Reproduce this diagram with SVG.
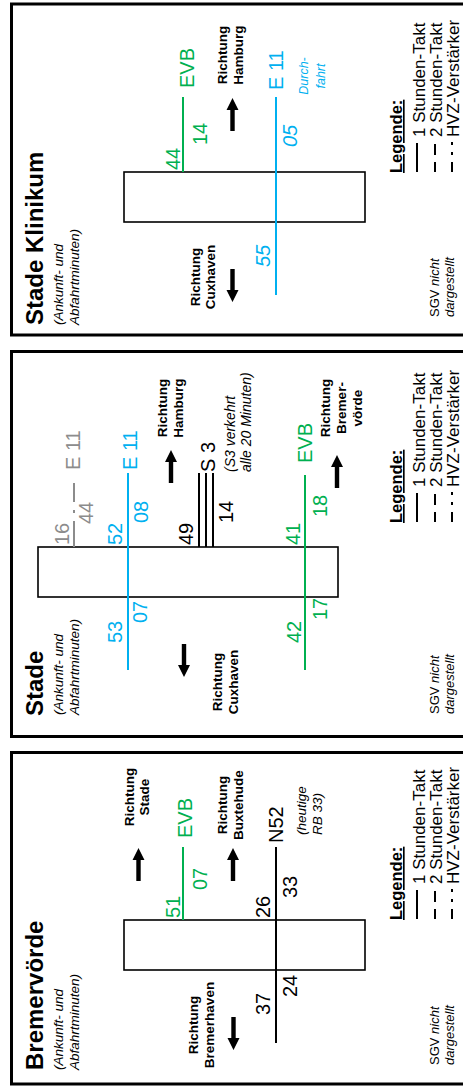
<svg xmlns="http://www.w3.org/2000/svg" xmlns:xlink="http://www.w3.org/1999/xlink" width="463" height="1086" viewBox="0 0 463 1086">
<defs>
<style>
text{font-family:"Liberation Sans",Arial,sans-serif;fill:#000}
.frame{fill:none;stroke:#000;stroke-width:3}
.stn{fill:none;stroke:#000;stroke-width:1.6}
.title{font-size:24px;font-weight:bold}
.sub{font-size:13.5px;font-style:italic}
.dir{font-size:13.5px;font-weight:bold;text-anchor:middle}
.num{font-size:20px}
.it{font-style:italic}
text.g{fill:#00B050}
text.b{fill:#00B0F0}
text.gr{fill:#8C8C8C}
.lg{stroke:#00B050;stroke-width:2;fill:none}
.lb{stroke:#00B0F0;stroke-width:2;fill:none}
.lk{stroke:#000;stroke-width:2;fill:none}
.lgr{stroke:#8C8C8C;stroke-width:2;fill:none;stroke-dasharray:26 8 3 8 19 99}
.leg{font-size:16.5px;font-weight:bold;text-decoration:underline}
.legt{font-size:17px}
.sgv{font-size:13px}
.note{font-size:14px;font-style:italic}
.small{font-size:12.5px;font-style:italic;text-anchor:middle}
</style>
<path id="arrR" d="M0,0 L-12,-6 L-12,-2.2 L-33,-2.2 L-33,2.2 L-12,2.2 L-12,6 Z" fill="#000"/>
<path id="arrL" d="M0,0 L12,-6 L12,-2.2 L33,-2.2 L33,2.2 L12,2.2 L12,6 Z" fill="#000"/>
<g id="legTpl">
<text class="leg" x="0" y="402">Legende:</text>
<path d="M1,417 H30" class="lk"/>
<path d="M1,435 H29" class="lk" stroke-dasharray="10 7 12 99"/>
<path d="M1,452 H31" class="lk" stroke-dasharray="10 7 3 7 4 99"/>
<text class="legt" x="36" y="425">1 Stunden-Takt</text>
<text class="legt" x="36" y="442">2 Stunden-Takt</text>
<text class="legt" x="36" y="459">HVZ-Verstärker</text>
</g>
</defs>
<rect x="0" y="0" width="463" height="1086" fill="#fff"/>
<g transform="translate(0,1086) rotate(-90)">

<!-- Bremervörde -->
<g id="panel-bremervoerde">
<rect class="frame" x="2" y="11.5" width="331.5" height="480"/>
<text class="title" x="16" y="43">Bremervörde</text>
<text class="sub" x="16" y="63">(Ankunft- und</text>
<text class="sub" x="16" y="79">Abfahrtminuten)</text>
<rect id="station-bremervoerde" class="stn" x="116" y="124" width="50" height="241"/>
<g id="lines-bremervoerde">
<path class="lg" d="M166,183 H239"/>
<path class="lk" d="M43,276 H239"/>
</g>
<text class="num g" x="168" y="180">51</text>
<text class="num g" x="196" y="207">07</text>
<text class="num g" x="248" y="192">EVB</text>
<text class="num" x="168" y="270">26</text>
<text class="num" x="188" y="297">33</text>
<text class="num" x="71" y="270">37</text>
<text class="num" x="89" y="297">24</text>
<text class="num" x="243" y="283">N52</text>
<text class="sub" x="251" y="306">(heutige</text>
<text class="sub" x="251" y="322">RB 33)</text>
<text class="dir" x="289" y="133.5">Richtung</text>
<text class="dir" x="289" y="149">Stade</text>
<use xlink:href="#arrR" x="238" y="138.5"/>
<text class="dir" x="281" y="227">Richtung</text>
<text class="dir" x="281" y="242.5">Buxtehude</text>
<use xlink:href="#arrR" x="238" y="233"/>
<text class="dir" x="61" y="198">Richtung</text>
<text class="dir" x="61" y="214">Bremerhaven</text>
<use xlink:href="#arrL" x="36" y="233.5"/>
<use xlink:href="#legTpl" x="166"/>
<text class="sgv" x="21" y="439">SGV <tspan class="it">nicht</tspan></text>
<text class="sgv it" x="21" y="454">dargestellt</text>
</g>

<!-- Stade -->
<g id="panel-stade">
<rect class="frame" x="349.5" y="11.5" width="385" height="480"/>
<text class="title" x="370" y="43">Stade</text>
<text class="sub" x="371" y="63">(Ankunft- und</text>
<text class="sub" x="371" y="79">Abfahrtminuten)</text>
<rect id="station-stade" class="stn" x="489" y="38" width="50" height="300"/>
<g id="lines-stade">
<path class="lb" d="M416,128 H613"/>
<path class="lgr" d="M539,74 H603"/>
<path class="lk" d="M539,199 H613 M539,206 H613 M539,213 H613" stroke-width="1.8"/>
<path class="lg" d="M416,305 H611"/>
</g>
<text class="num b" x="616" y="137">E 11</text>
<text class="num b" x="541" y="122">52</text>
<text class="num b" x="563" y="148">08</text>
<text class="num b" x="463" y="147">07</text>
<text class="num b" x="443" y="122">53</text>
<text class="num gr" x="616" y="80">E 11</text>
<text class="num gr" x="541" y="69">16</text>
<text class="num gr" x="562" y="93">44</text>
<text class="num" x="614" y="215">S 3</text>
<text class="num" x="541" y="193">49</text>
<text class="num" x="563" y="233">14</text>
<text class="note" x="614" y="235">(S3 verkehrt</text>
<text class="note" x="614" y="251">alle 20 Minuten)</text>
<text class="num g" x="623" y="312">EVB</text>
<text class="num g" x="541" y="300">41</text>
<text class="num g" x="443" y="301">42</text>
<text class="num g" x="569" y="327">18</text>
<text class="num g" x="466" y="327">17</text>
<text class="dir" x="678" y="167">Richtung</text>
<text class="dir" x="678" y="182.5">Hamburg</text>
<use xlink:href="#arrR" x="636" y="171"/>
<text class="dir" x="404" y="221.5">Richtung</text>
<text class="dir" x="404" y="237.5">Cuxhaven</text>
<use xlink:href="#arrL" x="409" y="184"/>
<text class="dir" x="678" y="330">Richtung</text>
<text class="dir" x="678" y="346">Bremer-</text>
<text class="dir" x="678" y="362">vörde</text>
<use xlink:href="#arrR" x="631" y="337"/>
<use xlink:href="#legTpl" x="563"/>
<text class="sgv" x="372" y="439">SGV <tspan class="it">nicht</tspan></text>
<text class="sgv it" x="372" y="454">dargestellt</text>
</g>

<!-- Stade Klinikum -->
<g id="panel-stade-klinikum">
<rect class="frame" x="751" y="11.5" width="331" height="480"/>
<text class="title" x="761" y="43">Stade Klinikum</text>
<text class="sub" x="761" y="63">(Ankunft- und</text>
<text class="sub" x="761" y="79">Abfahrtminuten)</text>
<rect id="station-klinikum" class="stn" x="864" y="124" width="50" height="241"/>
<g id="lines-klinikum">
<path class="lg" d="M914,183 H989"/>
<path class="lb" d="M791,276 H989"/>
</g>
<text class="num g" x="916" y="180">44</text>
<text class="num g" x="941" y="207">14</text>
<text class="num g" x="998" y="194">EVB</text>
<text class="num b" x="996" y="283">E 11</text>
<text class="num b it" x="939" y="297">05</text>
<text class="num b it" x="819" y="270">55</text>
<text class="small b" x="1010" y="308">Durch-</text>
<text class="small b" x="1010" y="325">fahrt</text>
<text class="dir" x="1031" y="227">Richtung</text>
<text class="dir" x="1031" y="242.5">Hamburg</text>
<use xlink:href="#arrR" x="988" y="232.5"/>
<text class="dir" x="809" y="199.5">Richtung</text>
<text class="dir" x="809" y="214.5">Cuxhaven</text>
<use xlink:href="#arrL" x="784" y="232.5"/>
<use xlink:href="#legTpl" x="913"/>
<text class="sgv" x="769" y="439">SGV <tspan class="it">nicht</tspan></text>
<text class="sgv it" x="769" y="454">dargestellt</text>
</g>
</g>
</svg>
